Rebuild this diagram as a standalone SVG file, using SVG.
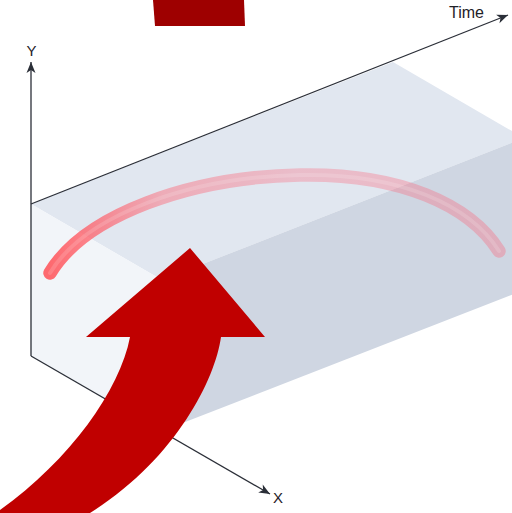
<svg xmlns="http://www.w3.org/2000/svg" width="512" height="513" viewBox="0 0 512 513">
  <style>
    .axis { stroke: #2b2f38; stroke-width: 1.3; fill: none; }
    .label { font-family: "Liberation Sans", Arial, sans-serif; fill: #1f2229; }
    .bigred { fill: #c00000; }
  </style>
  <defs>
    <marker id="ah" viewBox="-12 -6 13 12" markerWidth="13" markerHeight="12" refX="0" refY="0" orient="auto" markerUnits="userSpaceOnUse">
      <path d="M0,0 L-11,-4.5 L-8,0 L-11,4.5 Z" fill="#2b2f38"/>
    </marker>
    <linearGradient id="arcgrad" gradientUnits="userSpaceOnUse" x1="50" y1="0" x2="500" y2="0">
      <stop offset="0" stop-color="#ff5a60" stop-opacity="0.9"/>
      <stop offset="0.25" stop-color="#ff5a6a" stop-opacity="0.42"/>
      <stop offset="0.55" stop-color="#ff5a70" stop-opacity="0.3"/>
      <stop offset="1" stop-color="#ff5a70" stop-opacity="0.33"/>
    </linearGradient>
  </defs>

  <g id="box">
    <polygon id="top-face" points="31,204 393,62 524,138 162,280" fill="#e1e7f0"/>
    <polygon id="front-face" points="31,204 162,280 162,431 31,356" fill="#f2f5f9"/>
    <polygon id="side-face" points="162,280 524,138 524,290 162,431" fill="#cfd6e2"/>
  </g>

  <g id="connectors">
    <line class="axis" x1="31" y1="356" x2="31" y2="62" marker-end="url(#ah)"/>
    <line class="axis" x1="31" y1="204" x2="508" y2="15" marker-end="url(#ah)"/>
    <line class="axis" x1="31" y1="356" x2="270" y2="494" marker-end="url(#ah)"/>
  </g>

  <g id="labels">
    <text class="label" x="31.5" y="56" font-size="15" text-anchor="middle">Y</text>
    <text class="label" x="449" y="18" font-size="16">Time</text>
    <text class="label" x="273" y="503" font-size="15">X</text>
  </g>

  <g id="trajectory">
    <path d="M50,273 C85,215 190,177 300,175 C400,173 470,205 499,251" fill="none" stroke="url(#arcgrad)" stroke-width="13.5" stroke-linecap="round"/>
    <path d="M50,273 C85,215 190,177 300,175 C400,173 470,205 499,251" fill="none" stroke="#ffffff" stroke-opacity="0.15" stroke-width="4" stroke-linecap="round"/>
  </g>

  <g id="big-arrow">
    <path class="bigred" d="M190,248 L265,337 L221,337 C215,380 175,460 90,513 L70,530 L-20,530 L0,510 C70,460 120,390 130,337 L86,337 Z"/>
  </g>

  <g id="top-block">
    <polygon points="153,0 244,0 245,26 155,26" fill="#9e0000"/>
  </g>
</svg>
